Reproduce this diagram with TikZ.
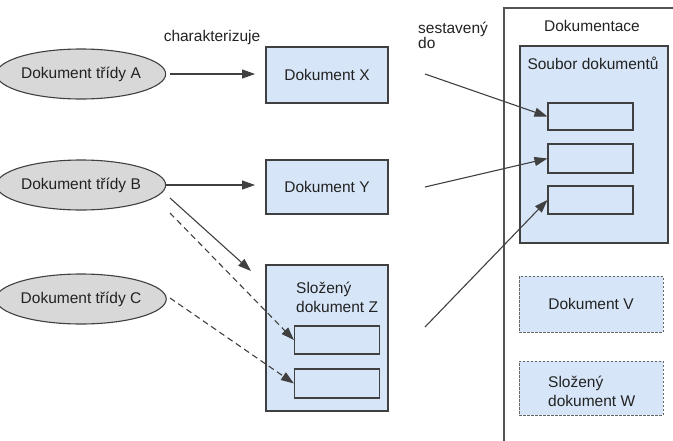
\documentclass[tikz,border=0pt]{standalone}
\usepackage{fontspec}
\setmainfont{Liberation Sans}
\usetikzlibrary{arrows.meta,shapes.geometric}
\definecolor{boxblue}{RGB}{214,230,248}
\definecolor{ellgray}{RGB}{216,216,216}
\definecolor{edge}{RGB}{64,64,64}
\definecolor{txt}{RGB}{34,34,34}
\begin{document}
\begin{tikzpicture}[x=1pt,y=-1pt,
  every node/.style={font=\fontsize{15.5}{19}\selectfont,text=txt},
  cls/.style={ellipse,draw=edge,line width=1.1pt,fill=ellgray,minimum width=143pt,minimum height=50pt,inner sep=0pt},
  docbox/.style={rectangle,draw=edge,line width=1.1pt,fill=boxblue,inner sep=0pt},
  slot/.style={rectangle,draw=edge,line width=1.1pt,fill=boxblue,inner sep=0pt,minimum width=85pt,minimum height=28pt},
  dashbox/.style={rectangle,draw=edge!80,line width=1pt,dash pattern=on 2.5pt off 1.5pt,fill=boxblue,inner sep=0pt,minimum width=144pt},
  plain/.style={inner sep=0pt},
  conn/.style={draw=edge,line width=1.1pt,-{Triangle[length=13pt,width=9pt]}},
  dconn/.style={conn,dash pattern=on 6pt off 4pt}]
\useasboundingbox (0,0) rectangle (673,440);

% Dokumentace container (extends beyond picture)
\begin{scope}
\clip (0,0) rectangle (673,440);
\node[rectangle,draw=edge!90,line width=1.3pt,fill=white,minimum width=196pt,minimum height=462pt,inner sep=0pt] (doc) at (602,239) {};
\end{scope}
\node[plain] (doclbl) at (592,26) {Dokumentace};

% class ellipses
\node[cls] (A) at (81,74) {Dokument třídy A};
\node[cls] (B) at (81,185) {Dokument třídy B};
\node[cls] (C) at (81,299) {Dokument třídy C};

% documents
\node[docbox,minimum width=122pt,minimum height=56pt] (X) at (327,75) {Dokument X};
\node[docbox,minimum width=122pt,minimum height=54pt] (Y) at (327,187) {Dokument Y};
\node[docbox,minimum width=122pt,minimum height=146pt] (Z) at (327,338) {};
\node[plain,align=left,anchor=west] (Zl) at (296,297) {Složený\\dokument Z};
\node[slot] (Z1) at (337,340) {};
\node[slot,minimum height=29pt] (Z2) at (337,383.5) {};

% Soubor dokumentu
\node[docbox,minimum width=148pt,minimum height=197pt] (S) at (594,144.5) {};
\node[plain] (Sl) at (593,63) {Soubor dokumentů};
\node[slot,minimum height=27pt] (S1) at (590.5,116.5) {};
\node[slot,minimum height=29pt] (S2) at (590.5,158.5) {};
\node[slot,minimum height=28pt] (S3) at (590.5,200) {};

% dashed documents
\node[dashbox,minimum height=56pt] (V) at (591,304) {Dokument V};
\node[dashbox,minimum height=54pt] (W) at (591,388) {};
\node[plain,align=left,anchor=west] (Wl) at (548,391) {Složený\\dokument W};

% labels
\node[plain] (lchar) at (212,37) {charakterizuje};
\node[plain,align=left,anchor=north west,font=\fontsize{15.5}{15}\selectfont] (lsest) at (418,22) {sestavený\\do};

% connector end points
\coordinate (a0) at (170,74);
\coordinate (a1) at (255,74);
\coordinate (b0) at (166,185);
\coordinate (b1) at (255,185);
\coordinate (bz0) at (170,198);
\coordinate (bz1) at (251,271);
\coordinate (bd0) at (170,213);
\coordinate (cd0) at (170,298);
\coordinate (x0) at (425,74);
\coordinate (y0) at (425,187);
\coordinate (z0) at (425,327);

\draw[conn] (a0) -- (a1);
\draw[conn] (b0) -- (b1);
\draw[conn] (bz0) -- (bz1);
\draw[dconn] (bd0) -- (Z1.west);
\draw[dconn] (cd0) -- (Z2.west);
\draw[conn] (x0) -- (S1.west);
\draw[conn] (y0) -- (S2.west);
\draw[conn] (z0) -- (S3.west);
\end{tikzpicture}
\end{document}
